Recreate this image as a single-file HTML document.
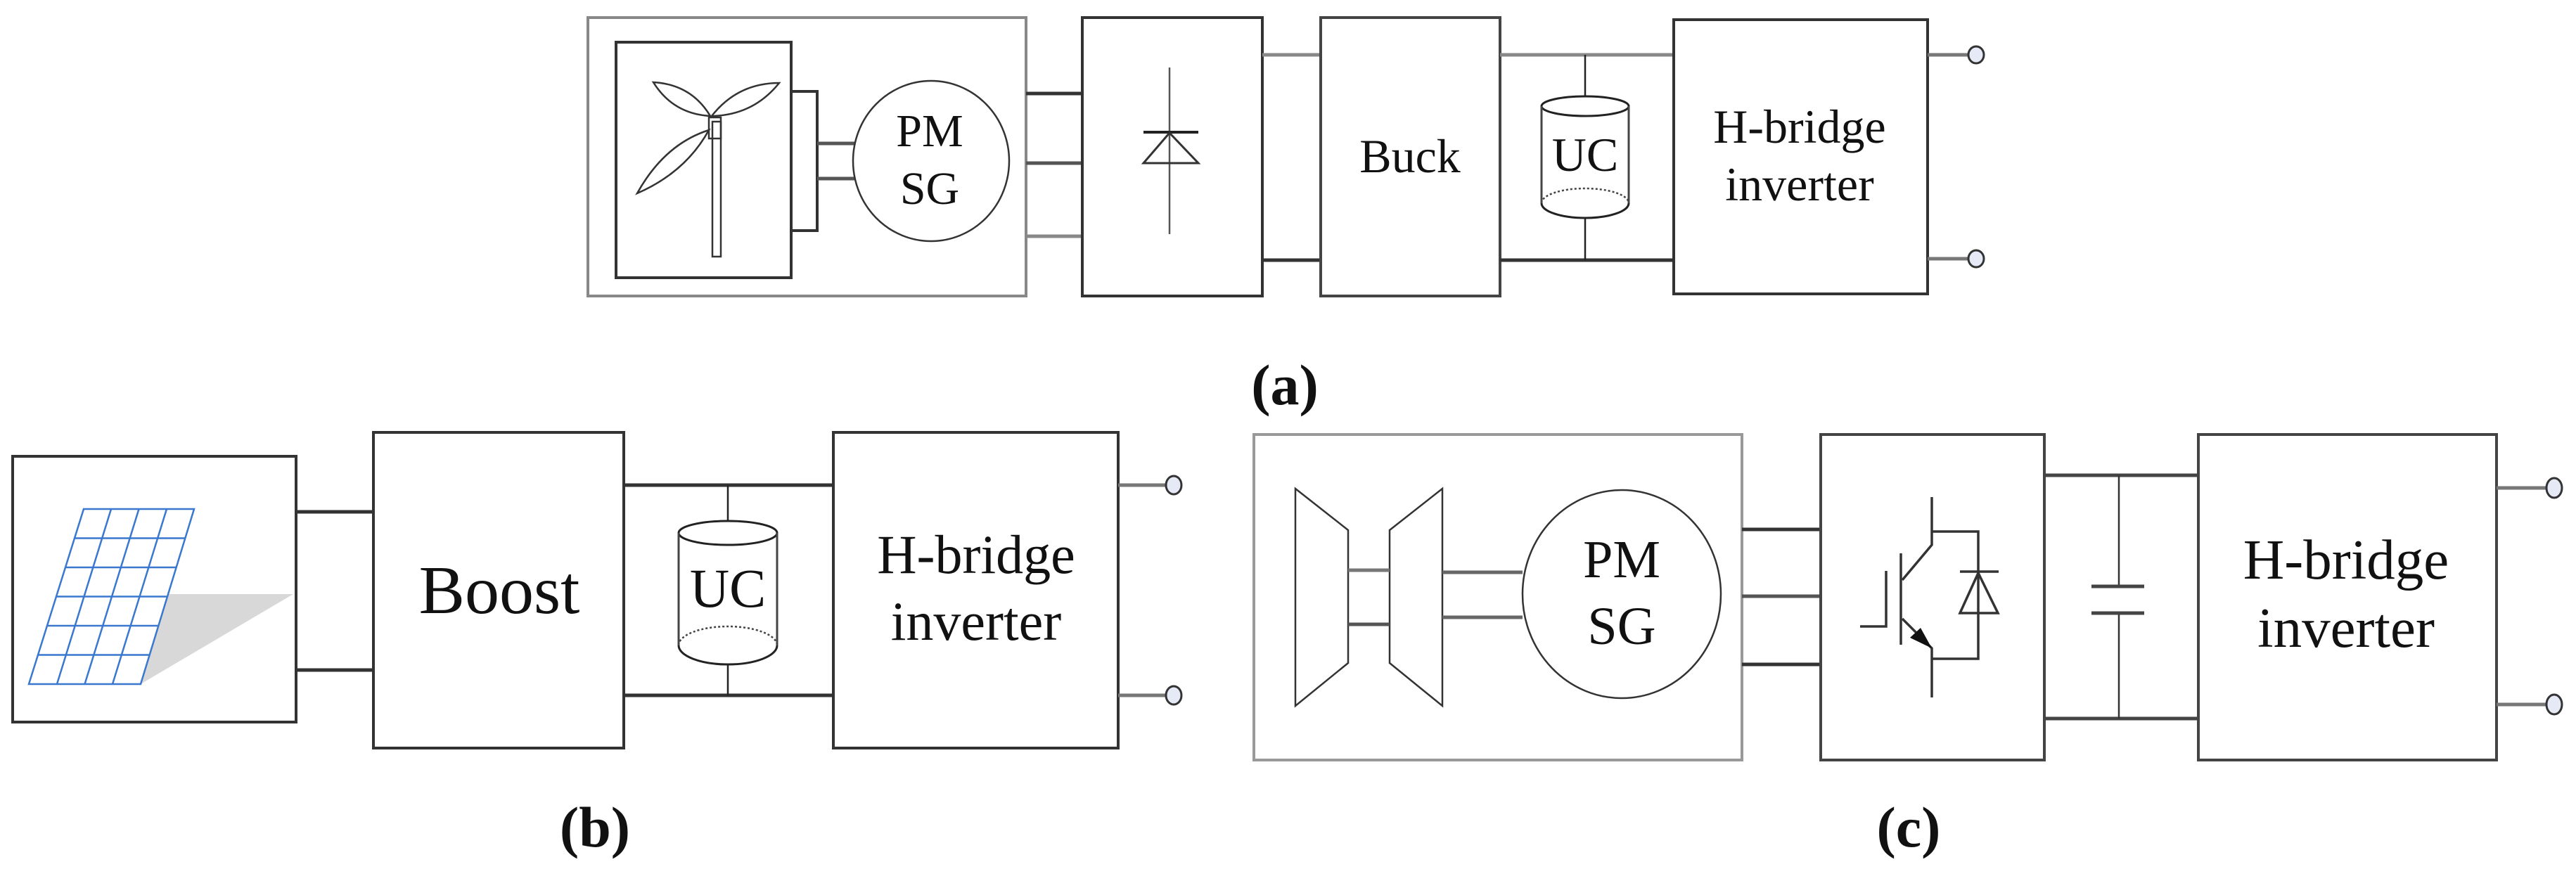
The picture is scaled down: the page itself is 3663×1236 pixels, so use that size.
<!DOCTYPE html>
<html><head><meta charset="utf-8"><style>
html,body{margin:0;padding:0;background:#fff;}
svg{display:block;}
text{font-family:"Liberation Serif",serif;fill:#111;}
</style></head><body>
<svg width="3663" height="1236" viewBox="0 0 3663 1236" xmlns="http://www.w3.org/2000/svg">
<g fill="none" stroke-linecap="butt">
<!-- ===== (a) ===== -->
<rect x="836" y="25" width="623" height="396" stroke="#888" stroke-width="4"/>
<rect x="876" y="60" width="249" height="335" stroke="#333" stroke-width="4"/>
<!-- turbine -->
<rect x="1013" y="173" width="12" height="192" stroke="#333" stroke-width="2.5"/>
<rect x="1008" y="167" width="17" height="30" stroke="#333" stroke-width="2.5"/>
<path d="M1010,165 Q983,120 929,117 Q957,162 1010,165 Z" stroke="#333" stroke-width="2.5"/>
<path d="M1012,165 Q1049,118 1108,118 Q1071,164 1012,165 Z" stroke="#333" stroke-width="2.5"/>
<path d="M1008,185 Q945,205 906,275 Q975,245 1008,185 Z" stroke="#333" stroke-width="2.5"/>
<!-- bracket -->
<polyline points="1125,130 1162,130 1162,328 1125,328" stroke="#333" stroke-width="4"/>
<line x1="1162" y1="204" x2="1215" y2="204" stroke="#555" stroke-width="5"/>
<line x1="1162" y1="254" x2="1215" y2="254" stroke="#555" stroke-width="5"/>
<ellipse cx="1324" cy="229" rx="111" ry="114" stroke="#333" stroke-width="2.5"/>
<!-- gen to rectifier -->
<line x1="1459" y1="133" x2="1539" y2="133" stroke="#333" stroke-width="5"/>
<line x1="1459" y1="232" x2="1539" y2="232" stroke="#555" stroke-width="5"/>
<line x1="1459" y1="336" x2="1539" y2="336" stroke="#888" stroke-width="5"/>
<rect x="1539" y="25" width="256" height="396" stroke="#333" stroke-width="4"/>
<line x1="1663" y1="96" x2="1663" y2="333" stroke="#555" stroke-width="2.5"/>
<line x1="1626" y1="188" x2="1704" y2="188" stroke="#222" stroke-width="4"/>
<polygon points="1663,189 1626,232 1704,232" stroke="#333" stroke-width="3"/>
<line x1="1795" y1="78" x2="1878" y2="78" stroke="#888" stroke-width="5"/>
<line x1="1795" y1="370" x2="1878" y2="370" stroke="#333" stroke-width="5"/>
<rect x="1878" y="25" width="255" height="396" stroke="#444" stroke-width="4"/>
<line x1="2133" y1="78" x2="2380" y2="78" stroke="#888" stroke-width="5"/>
<line x1="2133" y1="370" x2="2380" y2="370" stroke="#333" stroke-width="5"/>
<line x1="2254" y1="78" x2="2254" y2="138" stroke="#222" stroke-width="2.5"/>
<line x1="2254" y1="310" x2="2254" y2="370" stroke="#222" stroke-width="2.5"/>
<ellipse cx="2254" cy="151" rx="62" ry="14" stroke="#222" stroke-width="3"/>
<line x1="2192" y1="151" x2="2192" y2="289" stroke="#444" stroke-width="3"/>
<line x1="2316" y1="151" x2="2316" y2="289" stroke="#444" stroke-width="3"/>
<path d="M2192,289 A62,21 0 0 0 2316,289" stroke="#222" stroke-width="3"/>
<path d="M2192,289 A62,21 0 0 1 2316,289" stroke="#444" stroke-width="2.5" stroke-dasharray="3,3"/>
<rect x="2380" y="28" width="361" height="390" stroke="#333" stroke-width="4"/>
<line x1="2741" y1="78" x2="2799" y2="78" stroke="#777" stroke-width="5"/>
<line x1="2741" y1="368" x2="2799" y2="368" stroke="#777" stroke-width="5"/>
<ellipse cx="2810" cy="78" rx="11" ry="12" fill="#e6eaf6" stroke="#333" stroke-width="3"/>
<ellipse cx="2810" cy="368" rx="11" ry="12" fill="#e6eaf6" stroke="#333" stroke-width="3"/>

<!-- ===== (b) ===== -->
<rect x="18" y="649" width="403" height="378" stroke="#333" stroke-width="4"/>
<polygon points="236,845 417,845 200,973 215,880" fill="#d8d8d8" stroke="none"/>
<g stroke="#3a78d0" stroke-width="2.5">
<polygon points="119,724 276,724 200,973 41,973" fill="#fff"/>
<line x1="106" y1="765.5" x2="263" y2="765.5"/>
<line x1="93" y1="807" x2="251" y2="807"/>
<line x1="80" y1="848.5" x2="238" y2="848.5"/>
<line x1="67" y1="890" x2="225" y2="890"/>
<line x1="54" y1="931.5" x2="213" y2="931.5"/>
<line x1="158" y1="724" x2="81" y2="973"/>
<line x1="197.5" y1="724" x2="120.5" y2="973"/>
<line x1="237" y1="724" x2="160" y2="973"/>
</g>
<line x1="421" y1="728" x2="531" y2="728" stroke="#333" stroke-width="5"/>
<line x1="421" y1="953" x2="531" y2="953" stroke="#333" stroke-width="5"/>
<rect x="531" y="615" width="356" height="449" stroke="#333" stroke-width="4"/>
<line x1="887" y1="690" x2="1185" y2="690" stroke="#333" stroke-width="5"/>
<line x1="887" y1="989" x2="1185" y2="989" stroke="#333" stroke-width="5"/>
<line x1="1035" y1="690" x2="1035" y2="741" stroke="#222" stroke-width="2.5"/>
<line x1="1035" y1="945" x2="1035" y2="989" stroke="#222" stroke-width="2.5"/>
<ellipse cx="1035" cy="758" rx="70" ry="17" stroke="#222" stroke-width="3"/>
<line x1="965" y1="758" x2="965" y2="918" stroke="#444" stroke-width="3"/>
<line x1="1105" y1="758" x2="1105" y2="918" stroke="#444" stroke-width="3"/>
<path d="M965,918 A70,27 0 0 0 1105,918" stroke="#222" stroke-width="3"/>
<path d="M965,918 A70,27 0 0 1 1105,918" stroke="#444" stroke-width="2.5" stroke-dasharray="3,3"/>
<rect x="1185" y="615" width="405" height="449" stroke="#333" stroke-width="4"/>
<line x1="1590" y1="690" x2="1657" y2="690" stroke="#777" stroke-width="5"/>
<line x1="1590" y1="989" x2="1657" y2="989" stroke="#777" stroke-width="5"/>
<ellipse cx="1669" cy="690" rx="11" ry="13" fill="#e6eaf6" stroke="#333" stroke-width="3"/>
<ellipse cx="1669" cy="989" rx="11" ry="13" fill="#e6eaf6" stroke="#333" stroke-width="3"/>

<!-- ===== (c) ===== -->
<rect x="1783" y="618" width="694" height="463" stroke="#999" stroke-width="4"/>
<polygon points="1842,695 1917,754 1917,943 1842,1004" stroke="#333" stroke-width="2.5"/>
<polygon points="2051,695 1976,754 1976,943 2051,1004" stroke="#333" stroke-width="2.5"/>
<line x1="1917" y1="811" x2="1976" y2="811" stroke="#777" stroke-width="5"/>
<line x1="1917" y1="888" x2="1976" y2="888" stroke="#555" stroke-width="5"/>
<line x1="2051" y1="814" x2="2165" y2="814" stroke="#666" stroke-width="5"/>
<line x1="2051" y1="878" x2="2165" y2="878" stroke="#666" stroke-width="5"/>
<ellipse cx="2306" cy="845" rx="141" ry="148" stroke="#333" stroke-width="2.5"/>
<line x1="2477" y1="753" x2="2589" y2="753" stroke="#333" stroke-width="5"/>
<line x1="2477" y1="848" x2="2589" y2="848" stroke="#555" stroke-width="5"/>
<line x1="2477" y1="945" x2="2589" y2="945" stroke="#333" stroke-width="5"/>
<rect x="2589" y="618" width="318" height="463" stroke="#444" stroke-width="4"/>
<!-- IGBT -->
<g stroke="#333" stroke-width="3.5">
<polyline points="2747,707 2747,775 2705,825"/>
<polyline points="2747,756 2813,756 2813,937 2747,937"/>
<line x1="2703" y1="787" x2="2703" y2="917"/>
<polyline points="2645,891 2682,891 2682,812"/>
<polyline points="2705,880 2747,922 2747,992"/>
<line x1="2787" y1="813" x2="2842" y2="813"/>
<polygon points="2813,815 2787,872 2841,872"/>
</g>
<polygon points="2747,922 2716,907 2731,893" fill="#111"/>
<line x1="2907" y1="676" x2="3126" y2="676" stroke="#444" stroke-width="5"/>
<line x1="2907" y1="1022" x2="3126" y2="1022" stroke="#444" stroke-width="5"/>
<line x1="3013" y1="676" x2="3013" y2="834" stroke="#333" stroke-width="2.5"/>
<line x1="3013" y1="872" x2="3013" y2="1022" stroke="#333" stroke-width="2.5"/>
<line x1="2974" y1="834" x2="3049" y2="834" stroke="#444" stroke-width="5"/>
<line x1="2974" y1="872" x2="3049" y2="872" stroke="#444" stroke-width="5"/>
<rect x="3126" y="618" width="424" height="463" stroke="#444" stroke-width="4"/>
<line x1="3550" y1="694" x2="3620" y2="694" stroke="#777" stroke-width="5"/>
<line x1="3550" y1="1002" x2="3620" y2="1002" stroke="#777" stroke-width="5"/>
<ellipse cx="3632" cy="694" rx="11" ry="14" fill="#e6eaf6" stroke="#333" stroke-width="3"/>
<ellipse cx="3632" cy="1002" rx="11" ry="14" fill="#e6eaf6" stroke="#333" stroke-width="3"/>
</g>

<!-- text -->
<g text-anchor="middle">
<text x="1322" y="208" font-size="66">PM</text>
<text x="1322" y="290" font-size="66">SG</text>
<text x="2005" y="245" font-size="68">Buck</text>
<text x="2254" y="243" font-size="68">UC</text>
<text x="2559" y="203" font-size="68">H-bridge</text>
<text x="2559" y="285" font-size="68">inverter</text>
<text x="1827" y="575" font-size="82" font-weight="bold">(<tspan font-weight="bold">a</tspan>)</text>

<text x="710" y="872" font-size="98">Boost</text>
<text x="1035" y="863" font-size="78">UC</text>
<text x="1388" y="815" font-size="78">H-bridge</text>
<text x="1388" y="910" font-size="78">inverter</text>
<text x="846" y="1204" font-size="82" font-weight="bold">(b)</text>

<text x="2306" y="821" font-size="76">PM</text>
<text x="2306" y="916" font-size="76">SG</text>
<text x="3336" y="823" font-size="81">H-bridge</text>
<text x="3336" y="920" font-size="81">inverter</text>
<text x="2714" y="1204" font-size="82" font-weight="bold">(c)</text>
</g>
</svg>
</body></html>
